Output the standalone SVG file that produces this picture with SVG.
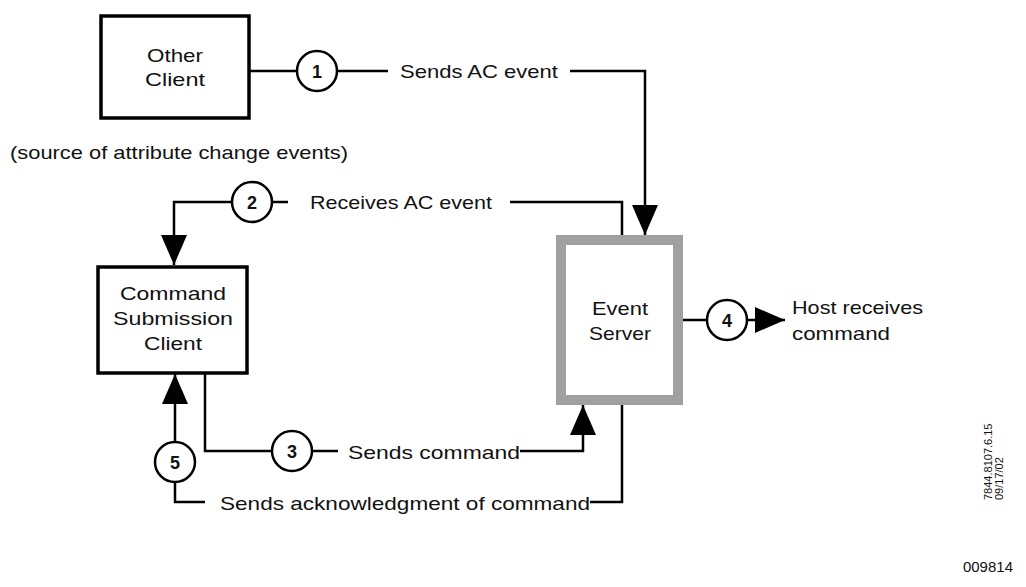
<svg xmlns="http://www.w3.org/2000/svg" width="1026" height="587" viewBox="0 0 1026 587">
<style>
text{font-family:"Liberation Sans",Arial,sans-serif;font-size:19px;fill:#111}
.c text{text-anchor:middle}
.box{fill:#fff;stroke:#000;stroke-width:3.5}
.ln{fill:none;stroke:#000;stroke-width:2.5}
.cir{fill:#fff;stroke:#000;stroke-width:2.5}
.num{font-weight:bold;font-size:18px;text-anchor:middle}
</style>
<defs>
<marker id="b" markerWidth="30" markerHeight="26" refX="30" refY="13" orient="auto" markerUnits="userSpaceOnUse" viewBox="0 0 30 26"><path d="M0,0L30,13L0,26Z"/></marker></defs>
<rect width="1026" height="587" fill="#fff"/>
<g id="connectors">
<path class="ln" d="M250,71H388M570,71H645V235" marker-end="url(#b)"/>
<path class="ln" d="M622,235V202H510M288,202H174V265" marker-end="url(#b)"/>
<path class="ln" d="M205,374V451H338M520,451H583V405" marker-end="url(#b)"/>
<path class="ln" d="M622,405V502H590M205,502H175V374" marker-end="url(#b)"/>
<path class="ln" d="M683,320H785" marker-end="url(#b)"/>
<circle class="cir" cx="317" cy="71" r="20"/><text class="num" x="317" y="78">1</text>
<circle class="cir" cx="252" cy="202" r="20"/><text class="num" x="252" y="209">2</text>
<circle class="cir" cx="292" cy="451" r="20"/><text class="num" x="292" y="458">3</text>
<circle class="cir" cx="727" cy="320" r="20"/><text class="num" x="727" y="327">4</text>
<circle class="cir" cx="175" cy="462" r="20"/><text class="num" x="175" y="469">5</text>
<text x="400" y="78" textLength="158" lengthAdjust="spacingAndGlyphs">Sends AC event</text>
<text x="310" y="209" textLength="182" lengthAdjust="spacingAndGlyphs">Receives AC event</text>
<text x="348" y="459" textLength="172" lengthAdjust="spacingAndGlyphs">Sends command</text>
<text x="220" y="510" textLength="370" lengthAdjust="spacingAndGlyphs">Sends acknowledgment of command</text>
<text x="792" y="314" textLength="131" lengthAdjust="spacingAndGlyphs">Host receives</text>
<text x="792" y="340" textLength="98" lengthAdjust="spacingAndGlyphs">command</text>
</g>
<g id="other" class="c"><rect class="box" x="101" y="16" width="148" height="102"/><text x="175" y="62" textLength="56" lengthAdjust="spacingAndGlyphs">Other</text><text x="175" y="86" textLength="60" lengthAdjust="spacingAndGlyphs">Client</text></g>
<text x="10" y="159" textLength="338" lengthAdjust="spacingAndGlyphs">(source of attribute change events)</text>
<g id="cmd" class="c"><rect class="box" x="98" y="267" width="149" height="106"/><text x="173" y="300" textLength="106" lengthAdjust="spacingAndGlyphs">Command</text><text x="173" y="325" textLength="120" lengthAdjust="spacingAndGlyphs">Submission</text><text x="173" y="350" textLength="58" lengthAdjust="spacingAndGlyphs">Client</text></g>
<g id="es" class="c"><rect x="561" y="240" width="117" height="160" fill="#fff" stroke="#a0a0a0" stroke-width="10"/><text x="620" y="315" textLength="56" lengthAdjust="spacingAndGlyphs">Event</text><text x="620" y="340" textLength="62" lengthAdjust="spacingAndGlyphs">Server</text></g>
<text transform="translate(992,500) rotate(-90)" style="font-size:11px">7844.8107.6.15</text>
<text transform="translate(1003,500) rotate(-90)" style="font-size:11px">09/17/02</text>
<text x="1013" y="572" style="font-size:15px;text-anchor:end">009814</text>
</svg>
